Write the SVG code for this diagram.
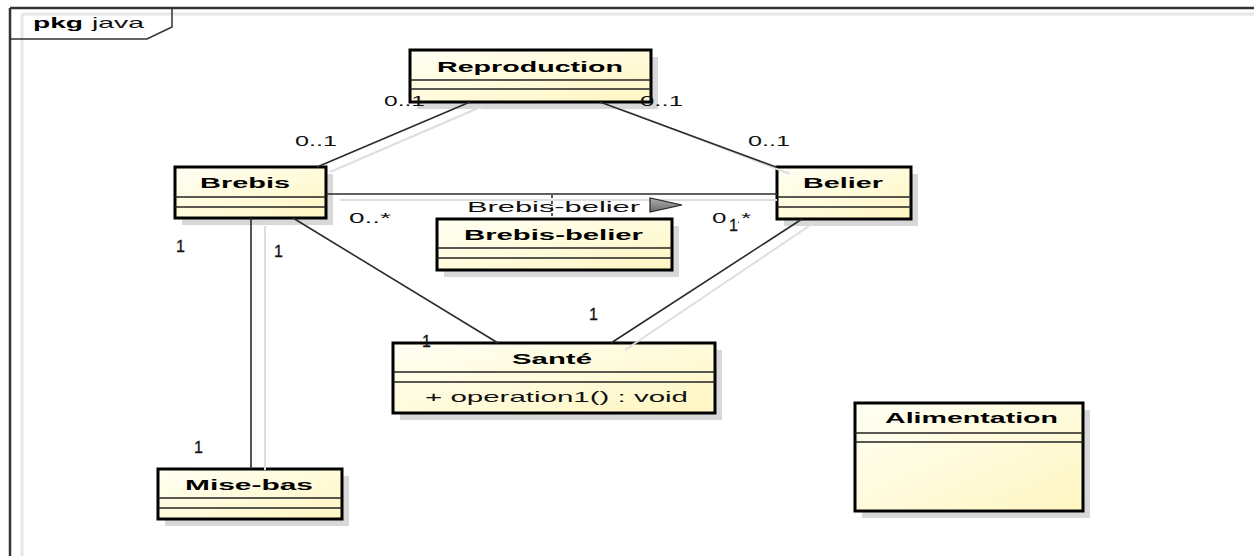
<svg xmlns="http://www.w3.org/2000/svg" width="1254" height="556" viewBox="0 0 1254 556">
  <defs>
    <linearGradient id="classFill" x1="0" y1="0" x2="1" y2="1">
      <stop offset="0" stop-color="#fffff4"/>
      <stop offset="1" stop-color="#fff6c2"/>
    </linearGradient>
    <linearGradient id="dirFill" x1="0" y1="0" x2="0" y2="1">
      <stop offset="0" stop-color="#b0b0b0"/>
      <stop offset="1" stop-color="#6a6a6a"/>
    </linearGradient>
  </defs>
  <style>
    .shadow{fill:#d8d8d8}
    .box{fill:url(#classFill);stroke:#000;stroke-width:3}
    .sep{stroke:#222;stroke-width:1.5}
    .title{font-family:"Liberation Sans",Arial,sans-serif;font-size:15px;font-weight:bold;fill:#000}
    .txt{font-family:"Liberation Sans",Arial,sans-serif;font-size:15px;fill:#111}
    .one{font-family:"Liberation Sans",Arial,sans-serif;font-size:16px;fill:#111;stroke:#111;stroke-width:0.3}
    .edge{stroke:#2b2b2b;stroke-width:1.6;fill:none}
    .edge-shadow{stroke:#dedede;stroke-width:2;fill:none}
  </style>

  <rect x="0" y="0" width="1254" height="556" fill="#fff"/>

  <!-- package frame -->
  <g id="package-java">
    <path d="M22 14 H1254 M22 14 V556" stroke="#e6e6e6" stroke-width="3" fill="none"/>
    <path d="M10 8 H1254 M10 8 V556" stroke="#333" stroke-width="2.5" fill="none"/>
    <path d="M10 39 H147 L172 27 V8" stroke="#333" stroke-width="1.5" fill="none"/>
    <text class="title" x="33" y="28" textLength="50" lengthAdjust="spacingAndGlyphs">pkg</text>
    <text class="txt" x="92" y="28" textLength="52" lengthAdjust="spacingAndGlyphs">java</text>
  </g>

  <!-- classes -->
  <g id="reproduction">
    <rect class="shadow" x="417" y="57" width="241" height="52"/>
    <rect class="box" x="410" y="50" width="241" height="52"/>
    <line class="sep" x1="410" y1="80" x2="651" y2="80"/>
    <line class="sep" x1="410" y1="89" x2="651" y2="89"/>
    <text class="title" x="437" y="72" textLength="186" lengthAdjust="spacingAndGlyphs">Reproduction</text>
  </g>

  <g id="brebis">
    <rect class="shadow" x="182" y="174" width="151" height="51"/>
    <rect class="box" x="175" y="167" width="151" height="51"/>
    <line class="sep" x1="175" y1="197" x2="326" y2="197"/>
    <line class="sep" x1="175" y1="207" x2="326" y2="207"/>
    <text class="title" x="200" y="188" textLength="90" lengthAdjust="spacingAndGlyphs">Brebis</text>
  </g>

  <g id="belier">
    <rect class="shadow" x="784" y="174" width="134" height="52"/>
    <rect class="box" x="777" y="167" width="134" height="52"/>
    <line class="sep" x1="777" y1="197" x2="911" y2="197"/>
    <line class="sep" x1="777" y1="207" x2="911" y2="207"/>
    <text class="title" x="803" y="188" textLength="80" lengthAdjust="spacingAndGlyphs">Belier</text>
  </g>

  <g id="brebis-belier">
    <rect class="shadow" x="444" y="226" width="235" height="51"/>
    <rect class="box" x="437" y="219" width="235" height="51"/>
    <line class="sep" x1="437" y1="248" x2="672" y2="248"/>
    <line class="sep" x1="437" y1="258" x2="672" y2="258"/>
    <text class="title" x="464" y="240" textLength="179" lengthAdjust="spacingAndGlyphs">Brebis-belier</text>
  </g>

  <g id="sante">
    <rect class="shadow" x="400" y="350" width="322" height="70"/>
    <rect class="box" x="393" y="343" width="322" height="70"/>
    <line class="sep" x1="393" y1="372" x2="715" y2="372"/>
    <line class="sep" x1="393" y1="382" x2="715" y2="382"/>
    <text class="title" x="512" y="364" textLength="80" lengthAdjust="spacingAndGlyphs">Santé</text>
    <text class="txt" x="425" y="402" textLength="263" lengthAdjust="spacingAndGlyphs">+ operation1() : void</text>
  </g>

  <g id="alimentation">
    <rect class="shadow" x="862" y="410" width="228" height="108"/>
    <rect class="box" x="855" y="403" width="228" height="108"/>
    <line class="sep" x1="855" y1="433" x2="1083" y2="433"/>
    <line class="sep" x1="855" y1="442" x2="1083" y2="442"/>
    <text class="title" x="885" y="423" textLength="173" lengthAdjust="spacingAndGlyphs">Alimentation</text>
  </g>

  <g id="mise-bas">
    <rect class="shadow" x="165" y="476" width="184" height="50"/>
    <rect class="box" x="158" y="469" width="184" height="50"/>
    <line class="sep" x1="158" y1="498" x2="342" y2="498"/>
    <line class="sep" x1="158" y1="508" x2="342" y2="508"/>
    <text class="title" x="185" y="490" textLength="128" lengthAdjust="spacingAndGlyphs">Mise-bas</text>
  </g>

  <!-- associations -->
  <g id="connectors">
    <!-- Reproduction - Brebis -->
    <path class="edge-shadow" d="M483 106 L330 172"/>
    <path class="edge" d="M470 102 L317 167"/>
    <!-- Reproduction - Belier -->
    <path class="edge-shadow" d="M613 106 L790 174"/>
    <path class="edge" d="M600 102 L776 167"/>
    <!-- Brebis - Belier (association class Brebis-belier) -->
    <path class="edge-shadow" d="M340 200 H777"/>
    <path class="edge" d="M326 194 H777"/>
    <path class="edge" d="M552 195 V219" stroke-dasharray="3 3" stroke-width="1.2"/>
    <polygon points="650,198 650,212 682,205" fill="url(#dirFill)" stroke="#222" stroke-width="1.2"/>
    <!-- Brebis - Santé -->
    <path class="edge" d="M293 218 L498 343"/>
    <!-- Belier - Santé -->
    <path class="edge-shadow" d="M815 222 L625 350"/>
    <path class="edge" d="M802 219 L611 343"/>
    <!-- Brebis - Mise-bas -->
    <path class="edge-shadow" d="M265 226 V470"/>
    <path class="edge" d="M251 218 V469"/>

    <!-- association name -->
    <text class="txt" x="467" y="212" textLength="173" lengthAdjust="spacingAndGlyphs">Brebis-belier</text>

    <!-- multiplicities -->
    <text class="txt" x="384" y="106" textLength="41" lengthAdjust="spacingAndGlyphs">0..1</text>
    <text class="txt" x="640" y="106" textLength="43" lengthAdjust="spacingAndGlyphs">0..1</text>
    <text class="txt" x="295" y="146" textLength="42" lengthAdjust="spacingAndGlyphs">0..1</text>
    <text class="txt" x="748" y="146" textLength="42" lengthAdjust="spacingAndGlyphs">0..1</text>
    <text class="txt" x="349" y="223" textLength="42" lengthAdjust="spacingAndGlyphs">0..*</text>
    <text class="txt" x="712" y="223" textLength="39" lengthAdjust="spacingAndGlyphs">0..*</text>
    <rect x="727" y="217" width="11" height="15" fill="#fff"/>
    <text class="one" x="729" y="231">1</text>
    <text class="one" x="176" y="252">1</text>
    <text class="one" x="274" y="257">1</text>
    <text class="one" x="589" y="320">1</text>
    <text class="one" x="422" y="347">1</text>
    <text class="one" x="194" y="453">1</text>
  </g>
</svg>
